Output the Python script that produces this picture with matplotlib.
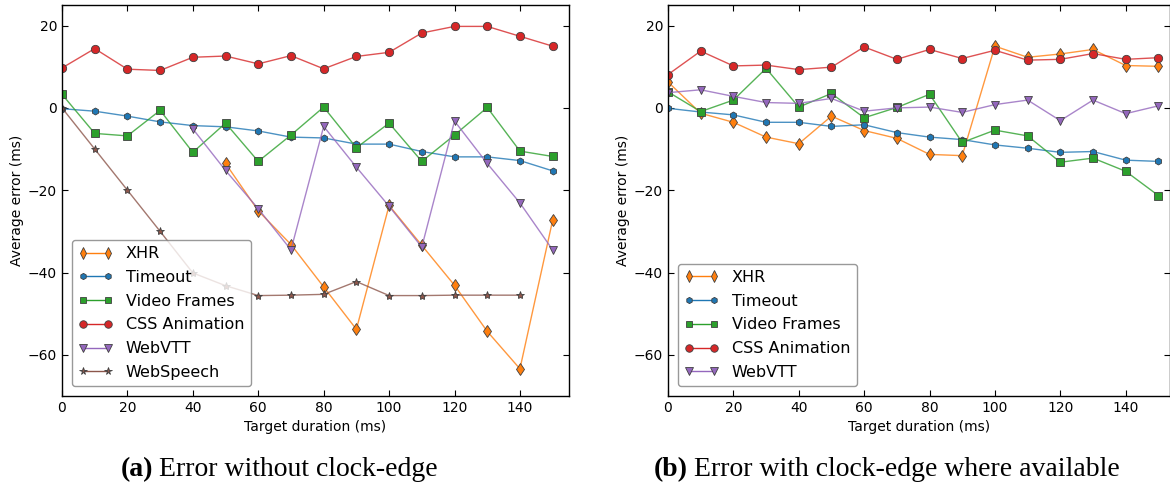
import numpy as np
import matplotlib
matplotlib.use('Agg')
import matplotlib.pyplot as plt

# target durations (ms)
durations = [0, 10, 20, 30, 40, 50, 60, 70, 80, 90, 100, 110, 120, 130, 140, 150]

# (a) without clock-edge
xhr_a = [None, None, None, None, None, -13.5, -25.0, -33.2, -43.5, -53.8,
         -23.7, -33.4, -43.1, -54.3, -63.4, -27.3]
timeout_a = [-0.2, -0.8, -2.0, -3.4, -4.3, -4.6, -5.6, -7.1, -7.3, -8.8,
             -8.8, -10.6, -11.9, -11.9, -12.8, -15.3]
video_a = [3.3, -6.2, -6.8, -0.6, -10.8, -3.7, -13.0, -6.6, 0.2, -9.7,
           -3.7, -13.0, -6.6, 0.1, -10.5, -11.8]
css_a = [9.7, 14.4, 9.4, 9.1, 12.3, 12.6, 10.7, 12.7, 9.5, 12.5,
         13.5, 18.2, 19.8, 19.8, 17.4, 15.0]
webvtt_a = [None, None, None, None, -5.1, -15.2, -24.5, -34.5, -4.5, -14.4,
            -23.9, -33.8, -3.2, -13.5, -23.1, -34.5]
webspeech_a = [0.0, -10.0, -20.0, -30.0, -40.1, -43.2, -45.6, -45.5, -45.3, -42.2,
               -45.6, -45.6, -45.5, -45.5, -45.5, None]

# (b) with clock-edge where available
xhr_b = [6.3, -1.3, -3.5, -7.1, -8.7, -2.0, -5.5, -7.4, -11.3, -11.6,
         15.0, 12.3, 13.1, 14.2, 10.3, 10.1]
timeout_b = [-0.1, -1.0, -1.7, -3.5, -3.5, -4.5, -4.1, -6.0, -7.1, -7.7,
             -9.0, -9.8, -10.8, -10.6, -12.7, -13.0]
video_b = [3.9, -0.9, 1.9, 9.6, 0.2, 3.5, -2.4, 0.1, 3.3, -8.4,
           -5.4, -6.8, -13.2, -12.2, -15.4, -21.3]
css_b = [8.1, 13.8, 10.2, 10.4, 9.3, 9.9, 14.8, 11.8, 14.2, 12.0,
         14.0, 11.6, 11.8, 13.2, 11.8, 12.2]
webvtt_b = [3.7, 4.4, 2.8, 1.3, 1.1, 2.3, -0.8, 0.0, 0.2, -1.1,
            0.8, 1.9, -3.1, 1.9, -1.4, 0.5]

# label -> (marker, size, colour)
styles = {
    'XHR': ('d', 6.5, '#ff7f0e'),
    'Timeout': ('h', 5, '#1f77b4'),
    'Video Frames': ('s', 5.5, '#2ca02c'),
    'CSS Animation': ('o', 6, '#d62728'),
    'WebVTT': ('v', 6, '#9467bd'),
    'WebSpeech': ('*', 6, '#8c564b'),
}

plt.rcParams['font.family'] = 'DejaVu Sans'
plt.rcParams['xtick.direction'] = 'in'
plt.rcParams['ytick.direction'] = 'in'
plt.rcParams['xtick.top'] = True
plt.rcParams['ytick.right'] = True
plt.rcParams['xtick.major.size'] = 4
plt.rcParams['ytick.major.size'] = 4
plt.rcParams['axes.linewidth'] = 1.0


def to_arr(vals):
    return np.array([np.nan if v is None else v for v in vals], dtype=float)


def draw(ax, series, xmax):
    handles = []
    for name, vals in series:
        mk, ms, col = styles[name]
        y = to_arr(vals)
        ok = ~np.isnan(y)
        x = np.array(durations)[ok]
        ax.plot(x, y[ok], color=col, lw=1.0, alpha=0.8)
        ax.plot(x, y[ok], ls='none', marker=mk, ms=ms, mfc=col, mec='0.25', mew=0.6)
        # legend entry: line with two markers
        h, = ax.plot([], [], color=col, lw=1.0, marker=mk, ms=ms * 0.9, mfc=col,
                     mec='0.25', mew=0.6)
        handles.append(h)
    ax.legend(handles, [n for n, _ in series], loc='lower left', numpoints=2,
              fontsize=11.5, framealpha=0.8, edgecolor='0.5', fancybox=True,
              handlelength=2.2, borderaxespad=0.6, labelspacing=0.55)
    ax.set_xlim(0, xmax)
    ax.set_ylim(-70, 25)
    ax.set_xticks(np.arange(0, 141, 20))
    ax.set_yticks([-60, -40, -20, 0, 20])
    ax.tick_params(labelsize=10)
    ax.set_xlabel('Target duration (ms)', fontsize=10, labelpad=4)
    ax.set_ylabel('Average error (ms)', fontsize=10, labelpad=3)


W, H = 1170, 493
fig = plt.figure(figsize=(W / 100, H / 100), dpi=100)

ax_a = fig.add_axes([62 / W, 97 / H, 507 / W, 391 / H])
ax_b = fig.add_axes([668 / W, 97 / H, 501.5 / W, 391 / H])

draw(ax_a, [('XHR', xhr_a), ('Timeout', timeout_a), ('Video Frames', video_a),
            ('CSS Animation', css_a), ('WebVTT', webvtt_a), ('WebSpeech', webspeech_a)], 155)
draw(ax_b, [('XHR', xhr_b), ('Timeout', timeout_b), ('Video Frames', video_b),
            ('CSS Animation', css_b), ('WebVTT', webvtt_b)], 153.4)

# captions under each panel
cap_y = 1 - 470 / H
cap_kw = dict(fontsize=20, family='Liberation Serif', va='center')
fig.text(153 / W, cap_y, '(a)', fontweight='bold', ha='right', **cap_kw)
fig.text(159 / W, cap_y, 'Error without clock-edge', ha='left', **cap_kw)
fig.text(688 / W, cap_y, '(b)', fontweight='bold', ha='right', **cap_kw)
fig.text(694 / W, cap_y, 'Error with clock-edge where available', ha='left', **cap_kw)

fig.savefig('out.png', dpi=100)
